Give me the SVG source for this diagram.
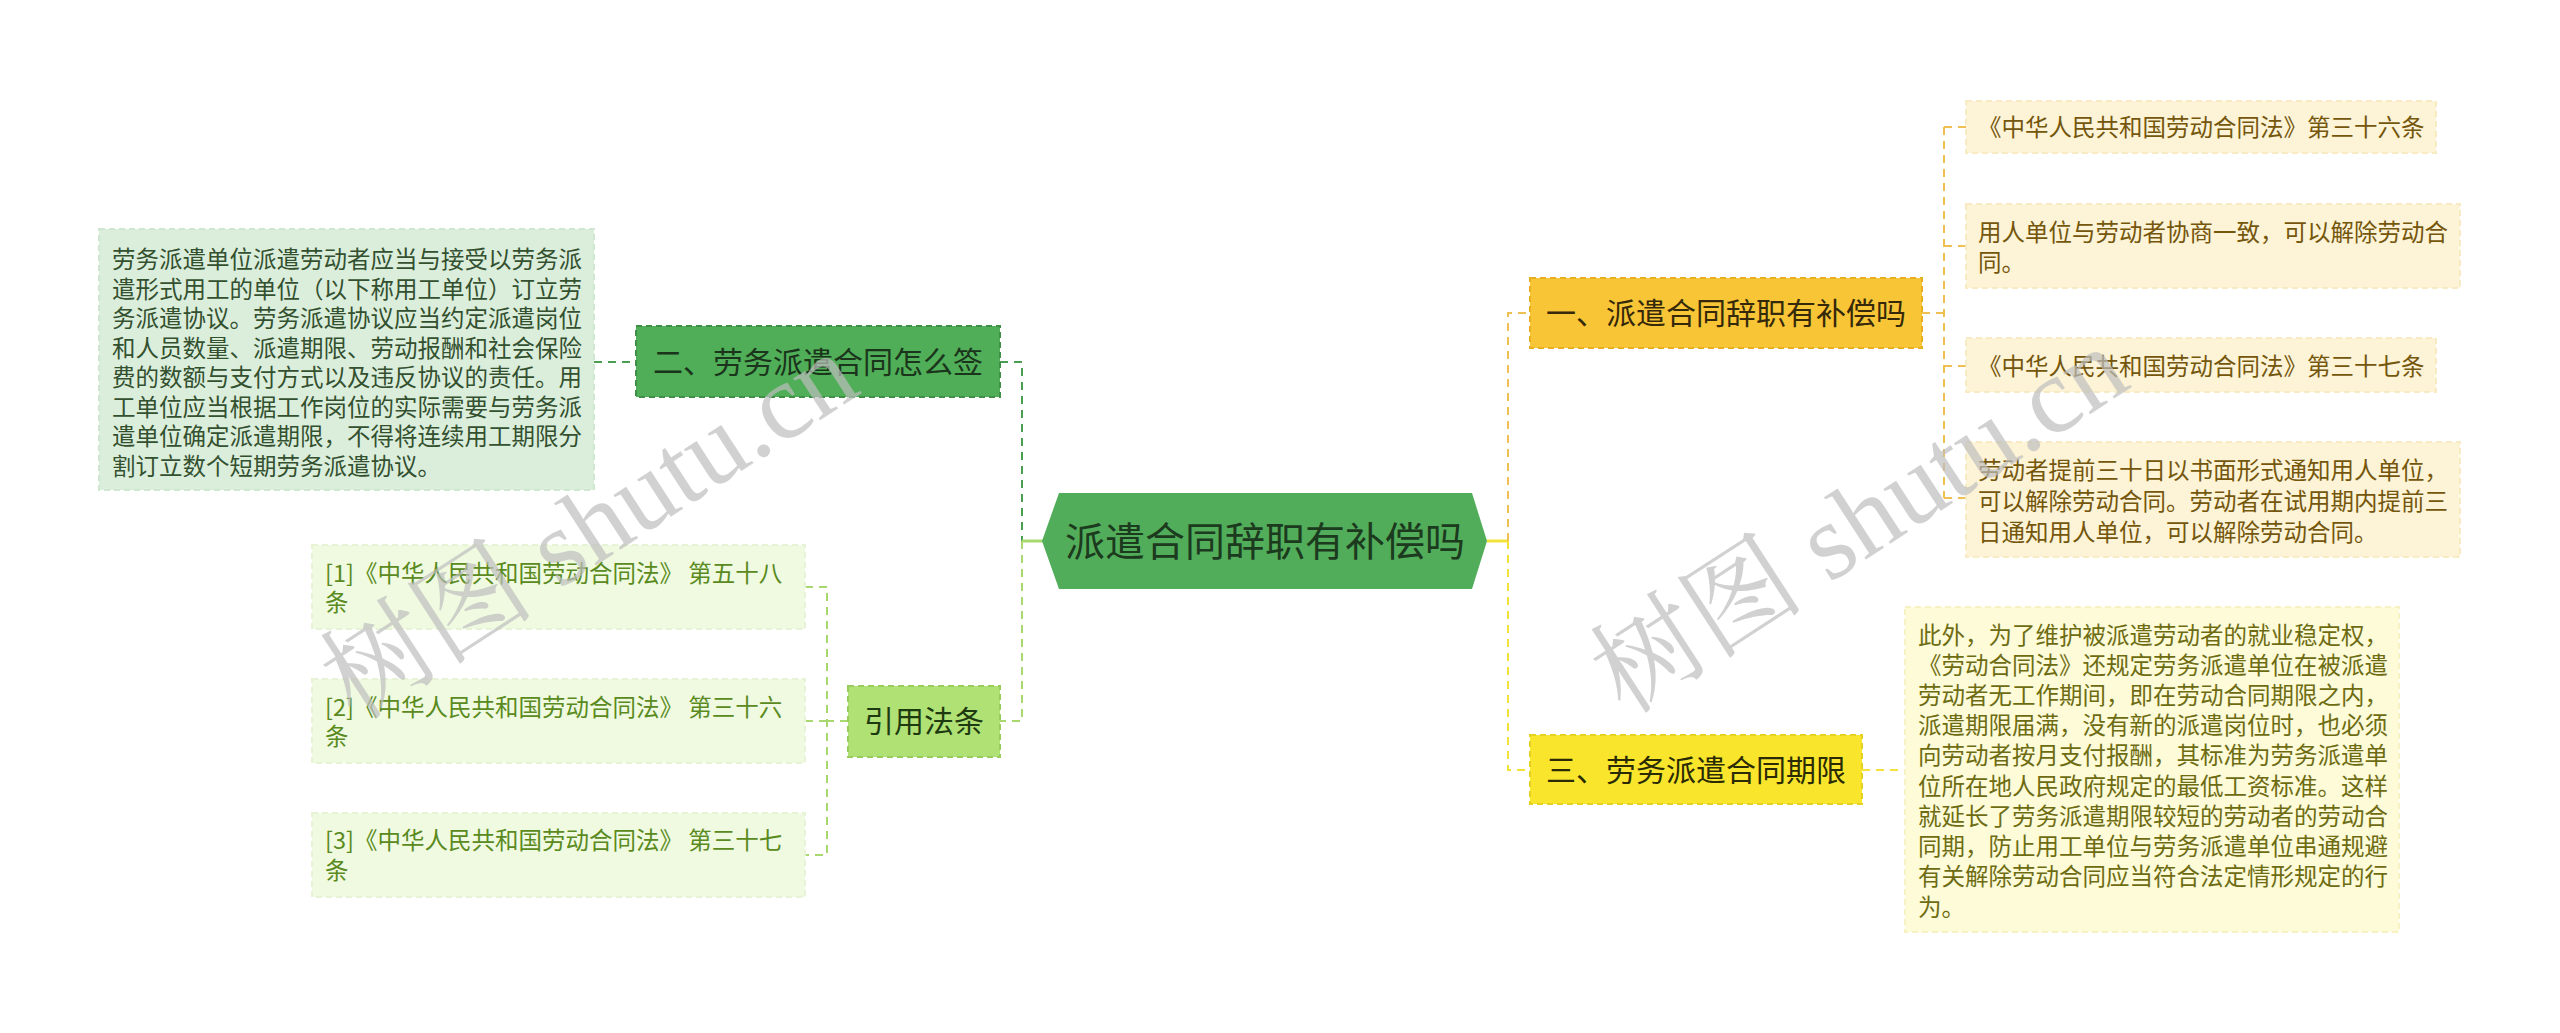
<svg xmlns="http://www.w3.org/2000/svg" width="2560" height="1033" viewBox="0 0 2560 1033">
<style>
text{font-family:"Noto Sans CJK SC","Noto Sans",sans-serif}
.s{font-size:23.5px}
.m{font-size:30px;text-anchor:middle}
.c{font-size:40px;text-anchor:middle;fill:#1c3a1e}
.dash{fill:none;stroke-width:2;stroke-dasharray:8 6}
.g1{stroke:#4a9e52}
.g2{stroke:#a9d86f}
.y1{stroke:#eebf52}
.y2{stroke:#f3e23a}
.wm{font-family:"Liberation Serif","Noto Serif CJK SC","Noto Sans CJK SC",serif;font-size:108px;fill:#bdbdbd;fill-opacity:0.7}
</style>
<rect width="2560" height="1033" fill="#ffffff"/>
<g id="connectors">
<path class="dash g1" d="M594 362H636M1000 362H1022V541"/>
<path class="dash g2" d="M1022 541V721H1000M848 721H827M805 587H827V855H805M805 721H827"/>
<path d="M1022 541H1043" stroke="#a9d86f" stroke-width="3" fill="none"/>
<path d="M1487 541H1508" stroke="#f3e23a" stroke-width="3" fill="none"/>
<path class="dash y1" d="M1508 541V313H1530M1922 313H1944M1944 127V498M1944 127H1966M1944 246H1966M1944 366H1966M1944 498H1966"/>
<path class="dash y2" d="M1508 541V770H1530M1862 770H1905"/>
</g>
<g id="center">
<polygon points="1042,541 1059,493 1472,493 1487,541 1472,589 1059,589" fill="#52ad5a"/>
<text class="c" x="1265" y="556">派遣合同辞职有补偿吗</text>
</g>
<g id="n2">
<rect x="636" y="326" width="364" height="71" fill="#4fae57" stroke="#3f8f47" stroke-width="2" stroke-dasharray="6 4"/>
<text class="m" x="818" y="373" fill="#1a351b">二、劳务派遣合同怎么签</text>
</g>
<g id="n2-desc">
<rect x="99" y="229" width="495" height="261" fill="#dbeedc" stroke="#cfe6d0" stroke-width="2" stroke-dasharray="6 4"/>
<text class="s" fill="#33502f" x="112">
<tspan x="112" y="268">劳务派遣单位派遣劳动者应当与接受以劳务派</tspan>
<tspan x="112" y="298">遣形式用工的单位（以下称用工单位）订立劳</tspan>
<tspan x="112" y="327">务派遣协议。劳务派遣协议应当约定派遣岗位</tspan>
<tspan x="112" y="357">和人员数量、派遣期限、劳动报酬和社会保险</tspan>
<tspan x="112" y="386">费的数额与支付方式以及违反协议的责任。用</tspan>
<tspan x="112" y="416">工单位应当根据工作岗位的实际需要与劳务派</tspan>
<tspan x="112" y="445">遣单位确定派遣期限，不得将连续用工期限分</tspan>
<tspan x="112" y="475">割订立数个短期劳务派遣协议。</tspan>
</text>
</g>
<g id="n-law">
<rect x="848" y="686" width="152" height="71" fill="#b0e174" stroke="#98cc5c" stroke-width="2" stroke-dasharray="6 4"/>
<text class="m" x="924" y="732" fill="#1e3a10">引用法条</text>
</g>
<g id="law1">
<rect x="312" y="545" width="493" height="84" fill="#effae1" stroke="#e6f3d6" stroke-width="2" stroke-dasharray="6 4"/>
<text class="s" fill="#5a8a20"><tspan x="325" y="582">[1]《中华人民共和国劳动合同法》 第五十八</tspan><tspan x="325" y="611">条</tspan></text>
</g>
<g id="law2">
<rect x="312" y="679" width="493" height="84" fill="#effae1" stroke="#e6f3d6" stroke-width="2" stroke-dasharray="6 4"/>
<text class="s" fill="#5a8a20"><tspan x="325" y="716">[2]《中华人民共和国劳动合同法》 第三十六</tspan><tspan x="325" y="745">条</tspan></text>
</g>
<g id="law3">
<rect x="312" y="813" width="493" height="84" fill="#effae1" stroke="#e6f3d6" stroke-width="2" stroke-dasharray="6 4"/>
<text class="s" fill="#5a8a20"><tspan x="325" y="849">[3]《中华人民共和国劳动合同法》 第三十七</tspan><tspan x="325" y="879">条</tspan></text>
</g>
<g id="n1">
<rect x="1530" y="278" width="392" height="70" fill="#f8c537" stroke="#e8b020" stroke-width="2" stroke-dasharray="6 4"/>
<text class="m" x="1726" y="324" fill="#35290a">一、派遣合同辞职有补偿吗</text>
</g>
<g id="n1-a">
<rect x="1966" y="101" width="470" height="52" fill="#fdf3d6" stroke="#f8ebc4" stroke-width="2" stroke-dasharray="6 4"/>
<text class="s" fill="#74560c" x="1978" y="136">《中华人民共和国劳动合同法》第三十六条</text>
</g>
<g id="n1-b">
<rect x="1966" y="204" width="494" height="84" fill="#fdf3d6" stroke="#f8ebc4" stroke-width="2" stroke-dasharray="6 4"/>
<text class="s" fill="#74560c"><tspan x="1978" y="241">用人单位与劳动者协商一致，可以解除劳动合</tspan><tspan x="1978" y="271">同。</tspan></text>
</g>
<g id="n1-c">
<rect x="1966" y="338" width="470" height="54" fill="#fdf3d6" stroke="#f8ebc4" stroke-width="2" stroke-dasharray="6 4"/>
<text class="s" fill="#74560c" x="1978" y="375">《中华人民共和国劳动合同法》第三十七条</text>
</g>
<g id="n1-d">
<rect x="1966" y="442" width="494" height="115" fill="#fdf3d6" stroke="#f8ebc4" stroke-width="2" stroke-dasharray="6 4"/>
<text class="s" fill="#74560c"><tspan x="1978" y="479">劳动者提前三十日以书面形式通知用人单位，</tspan><tspan x="1978" y="510">可以解除劳动合同。劳动者在试用期内提前三</tspan><tspan x="1978" y="541">日通知用人单位，可以解除劳动合同。</tspan></text>
</g>
<g id="n3">
<rect x="1530" y="735" width="332" height="69" fill="#f8e52c" stroke="#e6d020" stroke-width="2" stroke-dasharray="6 4"/>
<text class="m" x="1696" y="781" fill="#2a2a05">三、劳务派遣合同期限</text>
</g>
<g id="n3-desc">
<rect x="1905" y="607" width="494" height="325" fill="#fdfbd8" stroke="#f6f2c4" stroke-width="2" stroke-dasharray="6 4"/>
<text class="s" fill="#6e6c12">
<tspan x="1918" y="644">此外，为了维护被派遣劳动者的就业稳定权，</tspan>
<tspan x="1918" y="674">《劳动合同法》还规定劳务派遣单位在被派遣</tspan>
<tspan x="1918" y="704">劳动者无工作期间，即在劳动合同期限之内，</tspan>
<tspan x="1918" y="734">派遣期限届满，没有新的派遣岗位时，也必须</tspan>
<tspan x="1918" y="764">向劳动者按月支付报酬，其标准为劳务派遣单</tspan>
<tspan x="1918" y="795">位所在地人民政府规定的最低工资标准。这样</tspan>
<tspan x="1918" y="825">就延长了劳务派遣期限较短的劳动者的劳动合</tspan>
<tspan x="1918" y="855">同期，防止用工单位与劳务派遣单位串通规避</tspan>
<tspan x="1918" y="885">有关解除劳动合同应当符合法定情形规定的行</tspan>
<tspan x="1918" y="916">为。</tspan>
</text>
</g>
<g id="watermark">
<text class="wm" transform="translate(355 722) rotate(-33)">树图 shutu.cn</text>
<text class="wm" transform="translate(1625 716) rotate(-33)">树图 shutu.cn</text>
</g>
</svg>
